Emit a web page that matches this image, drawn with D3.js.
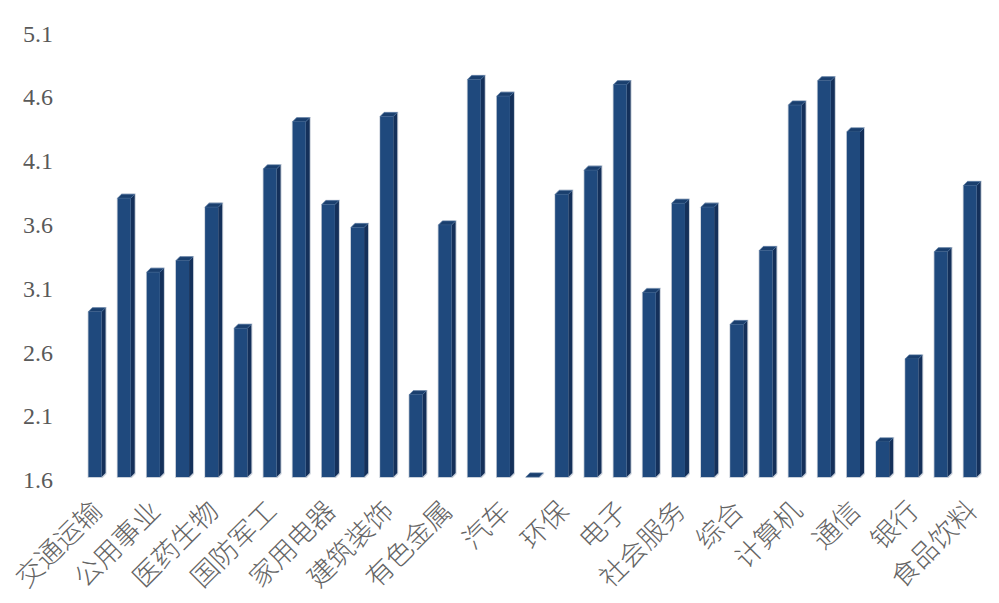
<!DOCTYPE html>
<html>
<head>
<meta charset="utf-8">
<script src="https://cdn.jsdelivr.net/npm/d3@7"></script>
<style>
  body { margin: 0; background: #fff; }
  svg { display: block; }
</style>
</head>
<body>
<div id="chart"></div>
<script>
// industries (every other one gets a label, like the original)
const industries = [
  "交通运输", "传媒", "公用事业", "农林牧渔", "医药生物", "商贸零售",
  "国防军工", "基础化工", "家用电器", "建筑材料", "建筑装饰", "房地产",
  "有色金属", "机械设备", "汽车", "煤炭", "环保", "电力设备", "电子",
  "石油石化", "社会服务", "纺织服饰", "综合", "美容护理", "计算机",
  "轻工制造", "通信", "钢铁", "银行", "非银金融", "食品饮料"
];
const values = [
  2.95, 3.84, 3.26, 3.35, 3.77, 2.82,
  4.07, 4.44, 3.79, 3.61, 4.48, 2.30,
  3.63, 4.77, 4.64, 1.64, 3.87, 4.06, 4.73,
  3.10, 3.80, 3.77, 2.85, 3.43, 4.57,
  4.76, 4.36, 1.93, 2.58, 3.42, 3.94
];
const yTicks = [1.6, 2.1, 2.6, 3.1, 3.6, 4.1, 4.6, 5.1];

const svgWidth = 999;
const svgHeight = 603;

let svg = d3.select("#chart")
  .append("svg")
  .attr("width", svgWidth)
  .attr("height", svgHeight);

// scales
let xScale = d3.scaleBand()
  .domain(industries)
  .range([80.4, 984.7])
  .paddingInner(0.55)
  .paddingOuter(0.275);

let yScale = d3.scaleLinear()
  .domain([1.6, 5.1])
  .range([480, 33.5]);

// y axis, labels only
let yAxis = svg.append("g")
  .attr("transform", "translate(54,0)")
  .call(d3.axisLeft(yScale).tickValues(yTicks).tickSize(0).tickPadding(1)
    .tickFormat(d3.format(".1f")));
yAxis.select(".domain").remove();
yAxis.selectAll("text")
  .attr("font-family", "'Liberation Serif', 'Times New Roman', serif")
  .attr("font-size", "24px")
  .attr("fill", "#595959");

// 3d-ish columns
const depth = 4;
const floorY = yScale(1.6) - 3;
const bw = xScale.bandwidth();

let bars = svg.append("g");
let cols = bars.selectAll("g")
  .data(industries.map((d, i) => ({ name: d, value: values[i] })))
  .enter()
  .append("g");

// soft shadow behind
cols.append("path")
  .attr("d", d => {
    let x = xScale(d.name), t = Math.min(yScale(d.value) + depth, floorY);
    return `M${x - 0.8},${floorY + 1} L${x - 0.8},${t} L${x + depth},${t - depth - 0.8}
            L${x + bw + depth + 1},${t - depth - 0.8} L${x + bw + depth + 1},${floorY - depth + 1}
            L${x + bw + 1},${floorY + 1} Z`;
  })
  .attr("fill", "#c9d0da");

// side face
cols.append("path")
  .attr("d", d => {
    let x = xScale(d.name) + bw, t = Math.min(yScale(d.value) + depth, floorY);
    return `M${x},${t} L${x + depth},${t - depth} L${x + depth},${floorY - depth} L${x},${floorY} Z`;
  })
  .attr("fill", "#14305a");

// top face
cols.append("path")
  .attr("d", d => {
    let x = xScale(d.name), t = Math.min(yScale(d.value) + depth, floorY);
    return `M${x},${t} L${x + depth},${t - depth} L${x + bw + depth},${t - depth} L${x + bw},${t} Z`;
  })
  .attr("fill", "#1a3f6e")
  .attr("stroke", "#4a6f9c")
  .attr("stroke-width", 0.6);

// front face
cols.append("rect")
  .attr("x", d => xScale(d.name))
  .attr("y", d => Math.min(yScale(d.value) + depth, floorY))
  .attr("width", bw)
  .attr("height", d => Math.max(0, floorY - (yScale(d.value) + depth)))
  .attr("fill", "#1f497d");

// x labels, rotated, every other category
let xLabels = svg.append("g");
xLabels.selectAll("text")
  .data(industries.filter((d, i) => i % 2 === 0))
  .enter()
  .append("text")
  .attr("transform", d => `translate(${xScale(d) + bw / 2 + 2},506) rotate(-45)`)
  .attr("text-anchor", "end")
  .attr("dy", "0.35em")
  .attr("font-family", "'Noto Sans CJK SC', sans-serif")
  .attr("font-weight", 300)
  .attr("font-size", "27px")
  .attr("fill", "#646464")
  .text(d => d);
</script>
</body>
</html>
